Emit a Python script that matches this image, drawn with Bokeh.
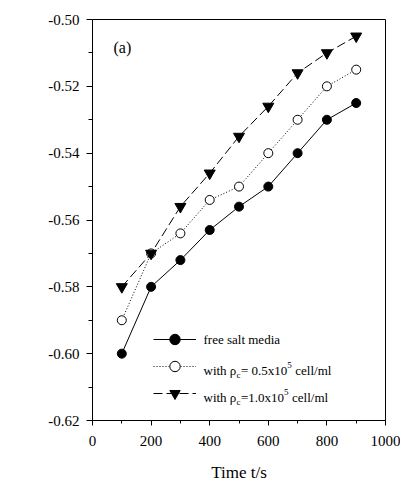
import math
from bokeh.plotting import figure
from bokeh.models import (Range1d, FixedTicker, Legend, LegendItem, Label)
from bokeh.embed import file_html
from bokeh.resources import INLINE

# ---- data ----
time_s = [100, 200, 300, 400, 500, 600, 700, 800, 900]
free_salt = [-0.600, -0.580, -0.572, -0.563, -0.556, -0.550, -0.540, -0.530, -0.525]
rho_05 = [-0.590, -0.570, -0.564, -0.554, -0.550, -0.540, -0.530, -0.520, -0.515]
rho_10 = [-0.580, -0.570, -0.556, -0.546, -0.535, -0.526, -0.516, -0.510, -0.505]

x_major = [0, 200, 400, 600, 800, 1000]
x_minor = [100, 300, 500, 700, 900]
y_major = [-0.62, -0.60, -0.58, -0.56, -0.54, -0.52, -0.50]
y_minor = [-0.61, -0.59, -0.57, -0.55, -0.53, -0.51]
y_labels = ["-0.62", "-0.60", "-0.58", "-0.56", "-0.54", "-0.52", "-0.50"]

FONT = "Liberation Serif"
TICK_FONT = "Times New Roman"

W, H = 400, 484
FL, FR, FT, FB = 92, 385, 19, 421   # frame edges in page pixels
p = figure(width=W, height=H, output_backend="svg", toolbar_location=None,
           x_range=Range1d(0, 1000), y_range=Range1d(-0.62, -0.50),
           min_border_left=FL, min_border_right=W - FR,
           min_border_top=FT, min_border_bottom=H - FB)
p.grid.visible = False
p.outline_line_color = "black"
p.outline_line_width = 1
p.background_fill_color = "white"
p.border_fill_color = "white"

for ax in (p.xaxis[0], p.yaxis[0]):
    ax.axis_line_color = "black"
    ax.major_tick_line_color = "black"
    ax.minor_tick_line_color = "black"
    ax.major_tick_in = 0
    ax.minor_tick_in = 0
    ax.major_label_text_font_size = "15px"
    ax.major_label_text_color = "black"
    ax.major_label_text_font = TICK_FONT

p.xaxis[0].ticker = FixedTicker(ticks=x_major, minor_ticks=x_minor)
p.yaxis[0].ticker = FixedTicker(ticks=y_major, minor_ticks=y_minor)
p.yaxis[0].major_label_overrides = {v: s for v, s in zip(y_major, y_labels)}
p.xaxis[0].major_tick_out = 5
p.xaxis[0].minor_tick_out = 3
p.yaxis[0].major_tick_out = 6
p.yaxis[0].minor_tick_out = 4
p.yaxis[0].major_label_standoff = 7
p.xaxis[0].major_label_standoff = 10

p.xaxis[0].axis_label = "Time t/s"
p.xaxis[0].axis_label_text_font = TICK_FONT
p.xaxis[0].axis_label_text_font_size = "17px"
p.xaxis[0].axis_label_text_font_style = "normal"
p.xaxis[0].axis_label_text_color = "black"
p.xaxis[0].axis_label_standoff = 14

# series
l1 = p.line(time_s, free_salt, line_color="black", line_width=1)
s1 = p.scatter(time_s, free_salt, marker="circle", size=9, fill_color="black", line_color="black")
l2 = p.line(time_s, rho_05, line_color="black", line_width=1, line_dash="1 2")
s2 = p.scatter(time_s, rho_05, marker="circle", size=9, fill_color="white", line_color="black", line_width=1)
l3 = p.line(time_s, rho_10, line_color="black", line_width=1, line_dash="9 4")
s3 = p.scatter(time_s, rho_10, marker="inverted_triangle", size=11, fill_color="black", line_color="black")

legend = Legend(items=[LegendItem(label=" ", renderers=[l1, s1]),
                       LegendItem(label=" ", renderers=[l2, s2]),
                       LegendItem(label=" ", renderers=[l3, s3])],
                location=(153 - FL, FB - 407), padding=0, margin=0, spacing=1,
                glyph_width=43, glyph_height=26, label_height=26, label_width=0,
                label_standoff=0, border_line_alpha=0, background_fill_alpha=0,
                label_text_font_size="1px")
p.add_layout(legend, "center")

# screen positions of annotations are relative to the plot frame
def sx(px):
    return px - FL

def sy(py):
    return FB - py

def lab(x, y, text, size, **kw):
    p.add_layout(Label(x=x, y=y, x_units="screen", y_units="screen", text=text,
                       text_font=FONT, text_font_size=f"{size}px", text_color="black", **kw))

# legend texts
LS = 13
SS = 9
rows = [340, 367, 394]
lab(sx(203), sy(rows[0]), "free salt media", LS, text_baseline="middle")
for r, num, wnum in ((rows[1], "= 0.5x10", 46.3), (rows[2], "=1.0x10", 43.0)):
    base = sy(r) - 4
    x0 = sx(203)
    lab(x0, base, "with \u03c1", LS, text_baseline="alphabetic")
    xc = x0 + 33
    lab(xc, base - 4, "c", SS, text_baseline="alphabetic")
    xn = xc + 4.5
    lab(xn, base, num, LS, text_baseline="alphabetic")
    xs = xn + wnum
    lab(xs, base + 6, "5", SS, text_baseline="alphabetic")
    lab(xs + 8, base, "cell/ml", LS, text_baseline="alphabetic")

# panel label
lab(sx(113), sy(48), "(a)", 16, text_baseline="middle")

# y-axis title pieces (rotated), anchored at the frame edge and offset outward
ang = math.pi / 2
off = 25 - FL
y0 = sy(240)
lab(0, y0, "E", 16, angle=ang, text_baseline="alphabetic", x_offset=off)
lab(0, y0 + 9.8, "(t)", 11, angle=ang, text_baseline="alphabetic", x_offset=off + 4)
lab(0, y0 + 9.8 + 10.4, "/V (vs. SCE)", 16, angle=ang, text_baseline="alphabetic", x_offset=off)

open("out.html", "w").write(file_html(p, INLINE))
